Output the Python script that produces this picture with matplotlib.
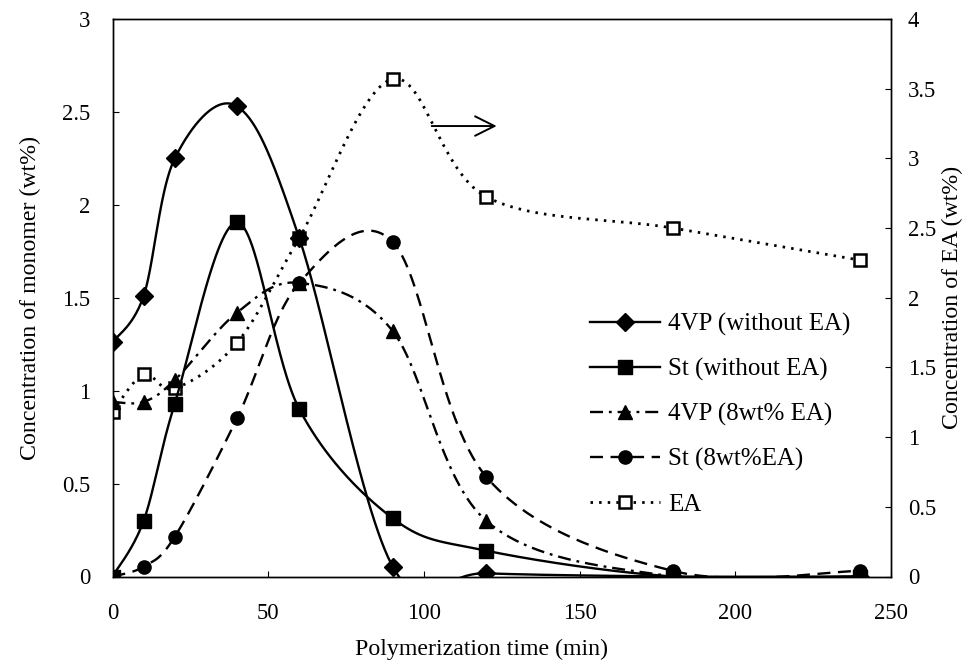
import numpy as np
import matplotlib
matplotlib.use("Agg")
import matplotlib.pyplot as plt

# ---- data ----
time_min = [0, 10, 20, 40, 60, 90, 120, 180, 240]
vp4_without_ea = [1.26, 1.51, 2.25, 2.53, 1.82, 0.053, 0.017, 0.0, 0.0]
st_without_ea = [0.0, 0.30, 0.93, 1.905, 0.90, 0.313, 0.139, 0.0, 0.0]
vp4_8wt_ea = [0.94, 0.94, 1.057, 1.42, 1.58, 1.32, 0.30, 0.0, 0.0]
st_8wt_ea = [0.0, 0.053, 0.214, 0.851, 1.58, 1.80, 0.537, 0.03, 0.03]
ea_conc = [1.18, 1.45, 1.35, 1.677, 2.43, 3.57, 2.725, 2.50, 2.27]

labels = ["4VP (without EA)", "St (without EA)", "4VP (8wt% EA)", "St (8wt%EA)", "EA"]
x_ticks = [0, 50, 100, 150, 200, 250]
left_ticks = [0, 0.5, 1, 1.5, 2, 2.5, 3]
right_ticks = [0, 0.5, 1, 1.5, 2, 2.5, 3, 3.5, 4]


def smooth(x, y, n=60):
    """Excel-like smoothed line: cubic Bezier segments (Catmull-Rom tangents)."""
    p = np.column_stack([np.asarray(x, float), np.asarray(y, float)])
    N = len(p)
    out = []
    t = np.linspace(0, 1, n)[:, None]
    for i in range(N - 1):
        p0 = p[i - 1] if i > 0 else p[i]
        p1, p2 = p[i], p[i + 1]
        p3 = p[i + 2] if i + 2 < N else p[i + 1]
        c1 = p1 + (p2 - p0) / 6.0
        c2 = p2 - (p3 - p1) / 6.0
        seg = (1 - t) ** 3 * p1 + 3 * (1 - t) ** 2 * t * c1 + 3 * (1 - t) * t ** 2 * c2 + t ** 3 * p2
        out.append(seg if i == 0 else seg[1:])
    s = np.vstack(out)
    return s[:, 0], s[:, 1]


plt.rcParams["font.family"] = ["Liberation Serif", "DejaVu Serif"]

fig = plt.figure(figsize=(9.69, 6.67), dpi=100)
ax = fig.add_axes([112.5 / 969, 90.5 / 667, 778.5 / 969, 557.5 / 667])
ax2 = ax.twinx()
ax.set_zorder(ax2.get_zorder() + 1)
ax.patch.set_visible(False)

lw = 1.7
ms = 9.5
series = [
    (vp4_without_ea, "D", "-", ms * 0.95),
    (st_without_ea, "s", "-", ms),
    (vp4_8wt_ea, "^", (0, (5.5, 2.5, 1.2, 2.5)), ms),
    (st_8wt_ea, "o", (0, (5.5, 3.2)), ms),
]
handles = []
for (vals, mk, ls, m), lab in zip(series, labels[:4]):
    sx, sy = smooth(time_min, vals)
    ax.plot(sx, sy, color="black", lw=lw, linestyle=ls, zorder=2)
    ax.plot(time_min, vals, linestyle="none", marker=mk, ms=m, color="black", zorder=3)
    h, = ax.plot([], [], color="black", lw=lw, linestyle=ls, marker=mk, ms=m)
    handles.append(h)

ea_ls = (0, (0.9, 2.2))
ex, ey = smooth(time_min, ea_conc)
ax2.plot(ex, ey, color="black", lw=2.0, linestyle=ea_ls, dash_capstyle="butt")
ax2.plot(time_min, ea_conc, linestyle="none", marker="s", ms=8.5, mfc="white", mec="black", mew=1.8)
h, = ax.plot([], [], color="black", lw=2.0, linestyle=ea_ls, marker="s", ms=8.5,
             mfc="white", mec="black", mew=1.8)
handles.append(h)

ax.set_xlim(0, 250)
ax.set_ylim(0, 3)
ax2.set_ylim(0, 4)
ax.set_xticks(x_ticks)
ax.set_yticks(left_ticks)
ax.set_yticklabels([f"{v:g}" for v in left_ticks])
ax2.set_yticks(right_ticks)
ax2.set_yticklabels([f"{v:g}" for v in right_ticks])

for a in (ax, ax2):
    for sp in a.spines.values():
        sp.set_linewidth(1.0)
ax.tick_params(axis="y", direction="in", length=4, width=0.8, labelsize=16.3, pad=16)
ax.tick_params(axis="x", direction="in", length=4, width=0.8, labelsize=16.3, pad=19)
ax2.tick_params(axis="y", direction="in", length=4, width=0.8, labelsize=16.3, pad=12)

ax.set_xlabel("Polymerization time (min)", fontsize=17.2)
ax.set_ylabel("Concentration of monomer (wt%)", fontsize=17.2)
ax2.set_ylabel("Concentration of EA (wt%)", fontsize=17.2)
ax.xaxis.set_label_coords(0.474, -0.112)
ax.yaxis.set_label_coords(-0.0918, 0.5)
ax2.yaxis.set_label_coords(1.0655, 0.5)

ax.annotate("", xy=(0.4935, 0.808), xytext=(0.41, 0.808), xycoords="axes fraction",
            arrowprops=dict(arrowstyle="->,head_length=1.4,head_width=0.7", lw=1.4,
                            color="black", mutation_scale=10, shrinkA=0, shrinkB=0))

leg = ax.legend(handles, labels, loc="upper left", bbox_to_anchor=(590 / 969, (667 - 313) / 667),
                bbox_transform=fig.transFigure, frameon=False, fontsize=18,
                handlelength=2.8, handletextpad=0.32, labelspacing=0.88,
                borderpad=0, borderaxespad=0)

fig.savefig("out.png", dpi=100)
